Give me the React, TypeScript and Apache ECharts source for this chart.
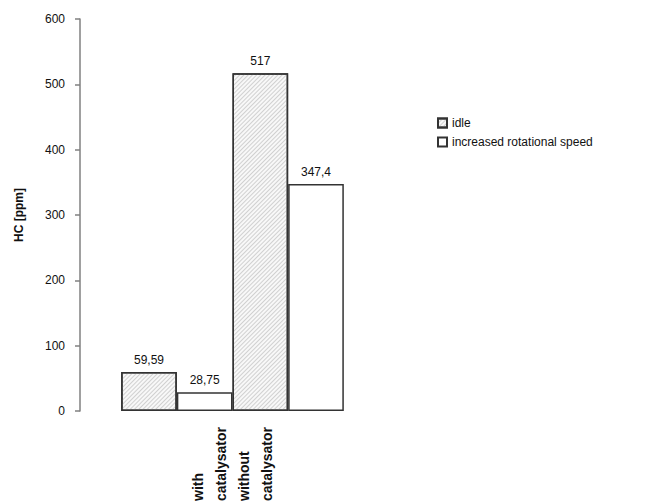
import React, { useEffect, useRef } from "react";
import * as echarts from "echarts";

const categories = ["with catalysator", "without catalysator"];
const modes = ["idle", "increased rotational speed"];
const idleValues = [59.59, 517];
const increasedValues = [28.75, 347.4];
const yTicks = { min: 0, max: 600, interval: 100 };

const FONT = "Arial, 'Liberation Sans', sans-serif";

export default function App() {
  const ref = useRef<HTMLDivElement>(null);
  useEffect(() => {
    if (!ref.current) return;
    const chart = echarts.init(ref.current, undefined, { renderer: "svg" });
    const valuesByMode = [idleValues, increasedValues];
    const hatch = {
      symbol: "rect",
      symbolSize: 1,
      color: "rgba(170,170,170,0.5)",
      dashArrayX: [1, 0],
      dashArrayY: [1, 2],
      rotation: -Math.PI / 4,
    };
    const series: any[] = [];
    categories.forEach((_c, ci) => {
      modes.forEach((m, mi) => {
        series.push({
          type: "bar",
          name: m,
          data: [valuesByMode[mi][ci]],
          barGap: "0%",
          barCategoryGap: "27%",
          itemStyle: {
            color: mi === 0 ? "#f8f8f8" : "#ffffff",
            borderColor: "#333",
            borderWidth: 1.5,
            decal: mi === 0 ? hatch : undefined,
          },
          label: {
            show: true,
            position: "top",
            distance: 6,
            fontFamily: FONT,
            fontSize: 12,
            color: "#111",
            formatter: (p: any) => String(p.value).replace(".", ","),
          },
        });
      });
    });
    const xLabel = categories.map((c) => c.split(" ").join("\n")).join("\n");
    chart.setOption({
      animation: false,
      backgroundColor: "#fff",
      grid: { left: 80, right: 269, top: 19, bottom: 90, outerBoundsMode: "none", containLabel: false },
      legend: {
        data: modes,
        orient: "vertical",
        left: 432,
        top: 112,
        padding: 5,
        icon: "rect",
        itemWidth: 9,
        itemHeight: 9,
        itemGap: 7,
        selectedMode: false,
        textStyle: { fontFamily: FONT, fontSize: 12, color: "#111" },
      },
      xAxis: {
        type: "category",
        data: [xLabel],
        axisLine: { show: false },
        axisTick: { show: false },
        axisLabel: {
          interval: 0,
          rotate: 90,
          align: "left",
          verticalAlign: "middle",
          margin: 90,
          fontFamily: FONT,
          fontSize: 14,
          fontWeight: "bold",
          lineHeight: 23,
          color: "#111",
        },
      },
      yAxis: {
        type: "value",
        min: yTicks.min,
        max: yTicks.max,
        interval: yTicks.interval,
        name: "HC [ppm]",
        nameLocation: "middle",
        nameGap: 55,
        nameRotate: 90,
        nameTextStyle: { fontFamily: FONT, fontSize: 12, fontWeight: "bold", color: "#111" },
        axisLine: { show: true, lineStyle: { color: "#808080", width: 1.5 } },
        axisTick: { show: true, length: 5, lineStyle: { color: "#808080", width: 1.5 } },
        splitLine: { show: false },
        axisLabel: { margin: 15, fontFamily: FONT, fontSize: 12, color: "#111" },
      },
      series,
    });
    return () => chart.dispose();
  }, []);
  return (
    <div
      ref={ref}
      style={{ position: "fixed", left: 0, top: 0, width: 654, height: 501 }}
    />
  );
}
